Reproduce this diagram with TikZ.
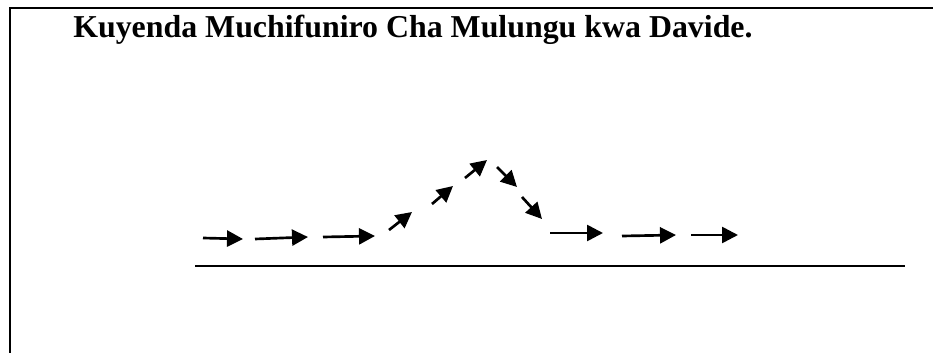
\documentclass[tikz,border=0pt]{standalone}
\usepackage{fontspec}
\setmainfont{Liberation Serif}
\usetikzlibrary{arrows.meta}
\begin{document}
\begin{tikzpicture}[x=0.75pt,y=-0.75pt,
  flow/.style={line width=2pt,-{Triangle[length=12pt,width=12pt]}},
  frame/.style={line width=1.8pt},
  ground/.style={line width=2.2pt},
  title/.style={anchor=base west,inner sep=0pt,font=\fontsize{23.9}{28}\selectfont\bfseries}]
\useasboundingbox (0,0) rectangle (933,353);
\draw[frame] (10,353) -- (10,8) -- (933,8);
\node[title] (t) at (73,38) {Kuyenda Muchifuniro Cha Mulungu kwa Davide.};
\draw[ground] (195,266) coordinate (g1) -- (905,266) coordinate (g2);
\coordinate (a1s) at (203,238); \coordinate (a1e) at (243,239);
\coordinate (a2s) at (255,239); \coordinate (a2e) at (308,237);
\coordinate (a3s) at (323,237); \coordinate (a3e) at (375,236);
\coordinate (a4s) at (389,230); \coordinate (a4e) at (412,212);
\coordinate (a5s) at (432,204); \coordinate (a5e) at (453,186);
\coordinate (a6s) at (465,178); \coordinate (a6e) at (487,160);
\coordinate (a7s) at (497,167); \coordinate (a7e) at (517,187);
\coordinate (a8s) at (522,197); \coordinate (a8e) at (542,219);
\coordinate (a9s) at (550,233); \coordinate (a9e) at (603,233);
\coordinate (a10s) at (622,236); \coordinate (a10e) at (676,235);
\coordinate (a11s) at (691,235); \coordinate (a11e) at (738,235);
\foreach \i in {1,...,11} \draw[flow] (a\i s) -- (a\i e);
\end{tikzpicture}
\end{document}
